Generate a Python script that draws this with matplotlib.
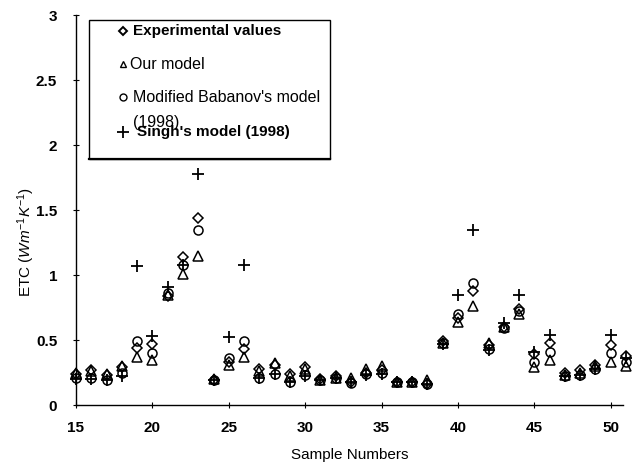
import matplotlib
matplotlib.use("Agg")
import matplotlib.pyplot as plt
from matplotlib.patches import Rectangle

plt.rcParams['font.family'] = ['Liberation Sans', 'DejaVu Sans']
plt.rcParams['mathtext.fontset'] = 'custom'
plt.rcParams['mathtext.rm'] = 'Liberation Sans'
plt.rcParams['mathtext.it'] = 'Liberation Sans:italic'

samples = list(range(15, 52))
experimental = [0.24, 0.27, 0.23, 0.29, 0.44, 0.47, 0.84, 1.14, 1.44, 0.19,
                0.33, 0.43, 0.28, 0.31, 0.24, 0.29, 0.20, 0.22, 0.18, 0.25,
                0.27, 0.18, 0.18, 0.16, 0.49, 0.67, 0.88, 0.46, 0.60, 0.74,
                0.39, 0.48, 0.25, 0.27, 0.31, 0.46, 0.38]
our_model = [0.25, 0.26, 0.24, 0.30, 0.37, 0.35, 0.85, 1.01, 1.15, 0.20,
             0.31, 0.37, 0.26, 0.32, 0.22, 0.28, 0.19, 0.21, 0.21, 0.28,
             0.30, 0.18, 0.18, 0.19, 0.48, 0.64, 0.76, 0.48, 0.60, 0.70,
             0.29, 0.35, 0.23, 0.25, 0.30, 0.33, 0.30]
babanov = [0.21, 0.21, 0.19, 0.25, 0.49, 0.40, 0.86, 1.08, 1.35, 0.19,
           0.36, 0.49, 0.21, 0.24, 0.18, 0.23, 0.19, 0.21, 0.17, 0.24,
           0.25, 0.18, 0.18, 0.16, 0.48, 0.70, 0.94, 0.43, 0.59, 0.72,
           0.33, 0.41, 0.22, 0.23, 0.28, 0.40, 0.33]
singh = [0.20, 0.20, 0.19, 0.22, 1.07, 0.53, 0.91, 1.08, 1.78, 0.19,
         0.52, 1.08, 0.21, 0.24, 0.18, 0.22, 0.19, 0.21, 0.18, 0.23,
         0.24, 0.18, 0.18, 0.16, 0.47, 0.85, 1.35, 0.42, 0.63, 0.85,
         0.41, 0.54, 0.22, 0.23, 0.28, 0.54, 0.36]

xticks = [15, 20, 25, 30, 35, 40, 45, 50]
yticks = [0, 0.5, 1, 1.5, 2, 2.5, 3]
ytick_labels = ['0', '0.5', '1', '1.5', '2', '2.5', '3']

fig = plt.figure(figsize=(6.34, 4.65), dpi=100)
ax = fig.add_axes([76/634, 1-405/465, (623-76)/634, (405-15)/465])

kw = dict(linestyle='none', color='black', mfc='none', clip_on=False)
ax.plot(samples, singh, marker='+', ms=8, mew=1.3, **kw)
ax.plot(samples, babanov, marker='o', ms=6.5, mew=1.1, **kw)
ax.plot(samples, our_model, marker='^', ms=6.5, mew=1.1, **kw)
ax.plot(samples, experimental, marker='D', ms=5, mew=1.1, **kw)

ax.set_xlim(15, 50.8)
ax.set_ylim(0, 3)
ax.set_xticks(xticks)
ax.set_yticks(yticks)
ax.set_yticklabels(ytick_labels)
for s in ['top', 'right']:
    ax.spines[s].set_visible(False)
for s in ['left', 'bottom']:
    ax.spines[s].set_linewidth(1.0)
ax.tick_params(direction='inout', length=5, width=0.8, labelsize=11)
for lbl in ax.get_xticklabels() + ax.get_yticklabels():
    lbl.set_fontweight('bold')
ax.tick_params(axis='x', pad=9)
ax.tick_params(axis='y', pad=11)

def fx(px):
    return px / 634
def fy(py):
    return 1 - py / 465

fig.text(fx(350), fy(455), 'Sample Numbers', fontsize=11, ha='center', va='center')
fig.text(fx(26), fy(242), r'ETC ($\mathit{Wm}^{-1}\mathit{K}^{-1}$)', fontsize=11,
         rotation=90, ha='center', va='center')

# legend box (manual)
fig.patches.append(Rectangle((fx(89), fy(159)), fx(330) - fx(89), fy(20) - fy(159),
                             transform=fig.transFigure, fill=False,
                             edgecolor='black', linewidth=1.0))
fig.lines.append(plt.Line2D([fx(89), fx(330)], [fy(159), fy(159)],
                            transform=fig.transFigure, color='black', lw=1.6))
mk = 123
fig.lines.append(plt.Line2D([fx(mk)], [fy(31)], transform=fig.transFigure,
                            marker='D', ms=4.5, mew=1.4, color='black', mfc='none'))
fig.text(fx(133), fy(31), 'Experimental values', fontsize=11, fontweight='bold', va='center')
fig.lines.append(plt.Line2D([fx(mk)], [fy(64)], transform=fig.transFigure,
                            marker='^', ms=5, mew=1.0, color='black', mfc='none'))
fig.text(fx(130), fy(64), 'Our model', fontsize=11.5, va='center')
fig.lines.append(plt.Line2D([fx(mk)], [fy(97)], transform=fig.transFigure,
                            marker='o', ms=5, mew=1.0, color='black', mfc='none'))
fig.text(fx(133), fy(97), "Modified Babanov's model", fontsize=11.5, va='center')
fig.text(fx(133), fy(123), "(1998)", fontsize=11.5, va='center')
fig.lines.append(plt.Line2D([fx(mk)], [fy(132)], transform=fig.transFigure,
                            marker='+', ms=8, mew=1.3, color='black'))
fig.text(fx(137), fy(132), "Singh's model (1998)", fontsize=11, fontweight='bold', va='center')

fig.savefig('out.png', dpi=100)
